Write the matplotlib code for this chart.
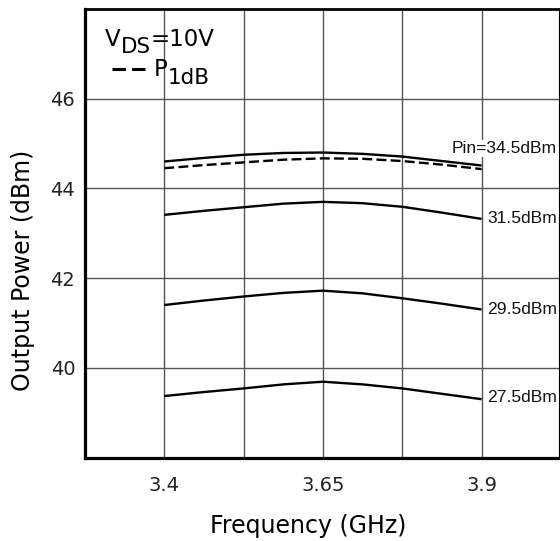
import matplotlib
matplotlib.use('Agg')
import matplotlib.pyplot as plt
from matplotlib.lines import Line2D

# ---- data ----
freq = [3.4, 3.4625, 3.525, 3.5875, 3.65, 3.7125, 3.775, 3.8375, 3.9]
pin_34_5 = [44.60, 44.68, 44.75, 44.79, 44.80, 44.77, 44.71, 44.61, 44.51]
p1db = [44.45, 44.52, 44.58, 44.64, 44.67, 44.66, 44.61, 44.53, 44.43]
pin_31_5 = [43.41, 43.50, 43.58, 43.66, 43.70, 43.67, 43.59, 43.46, 43.32]
pin_29_5 = [41.40, 41.50, 41.59, 41.67, 41.72, 41.66, 41.55, 41.43, 41.30]
pin_27_5 = [39.37, 39.46, 39.54, 39.63, 39.69, 39.63, 39.54, 39.42, 39.30]
curve_labels = ["Pin=34.5dBm", "31.5dBm", "29.5dBm", "27.5dBm"]
xticks = [3.4, 3.65, 3.9]
xtick_labels = ["3.4", "3.65", "3.9"]
xgrid_minor = [3.525, 3.775]
yticks = [40, 42, 44, 46]

W, H = 560, 541
fig = plt.figure(figsize=(W / 100, H / 100), dpi=100)
ax = fig.add_axes([85 / W, 1 - 457.5 / H, 474 / W, 448.5 / H])

lw = 1.7
ax.plot(freq, pin_34_5, color='black', lw=lw, solid_capstyle='butt')
ax.plot(freq, p1db, color='black', lw=lw, dashes=(4.2, 1.8))
ax.plot(freq, pin_31_5, color='black', lw=lw, solid_capstyle='butt')
ax.plot(freq, pin_29_5, color='black', lw=lw, solid_capstyle='butt')
ax.plot(freq, pin_27_5, color='black', lw=lw, solid_capstyle='butt')

ax.set_xlim(3.275, 4.022)
ax.set_ylim(38, 48)
ax.set_xticks(xticks)
ax.set_xticklabels(xtick_labels)
ax.set_xticks(xgrid_minor, minor=True)
ax.set_yticks(yticks)
ax.tick_params(axis='both', which='both', length=0, labelsize=14, colors='black')
ax.tick_params(axis='x', pad=13, labelcolor='#222222')
ax.tick_params(axis='y', pad=7, labelcolor='#222222')
ax.grid(True, which='both', color='#555555', lw=1.0)
ax.set_axisbelow(True)

ax.spines['left'].set_linewidth(2.3)
ax.spines['bottom'].set_linewidth(2.3)
ax.spines['top'].set_linewidth(2.0)
ax.spines['right'].set_linewidth(0.8)

# curve labels
ends = [pin_34_5[-1], pin_31_5[-1], pin_29_5[-1], pin_27_5[-1]]
offs = [-17, 0, 0, -2]  # pixel offsets (up negative)
for lab, yv, off in zip(curve_labels, ends, offs):
    kw = dict(fontsize=12.6, family='Liberation Sans', ha='right', va='center',
              color='#111111')
    t = ax.annotate(lab, xy=(1.0, yv), xycoords=('axes fraction', 'data'),
                    xytext=(-1.5, -off * 0.72), textcoords='offset points', **kw)
    if lab.startswith('Pin'):
        t.set_bbox(dict(facecolor='white', edgecolor='none', pad=0.5))

# axis labels
fig.text(308 / W, 1 - 533 / H, "Frequency (GHz)", fontsize=17, ha='center', va='baseline')
fig.text(23 / W, 1 - 270 / H, "Output Power (dBm)", fontsize=17, ha='center',
         va='center', rotation=90)

# legend-like text
fig.canvas.draw()
r = fig.canvas.get_renderer()

def seq(parts, x0, y0):
    x = x0
    for s, dy, fs in parts:
        t = fig.text(x / W, 1 - (y0 + dy) / H, s, fontsize=fs, ha='left', va='baseline')
        bb = t.get_window_extent(r)
        x += bb.width

seq([("V", 0, 16.5), ("DS", 7, 15.5), ("=10V", 0, 16.5)], 105, 46)
ln = Line2D([112 / W, 145 / W], [1 - 69 / H, 1 - 69 / H], transform=fig.transFigure,
            color='black', lw=2.2, dashes=(4.4, 2.0))
fig.add_artist(ln)
seq([("P", 0, 16.5), ("1dB", 8, 15.5)], 154, 76)

fig.savefig('out.png', dpi=100)
